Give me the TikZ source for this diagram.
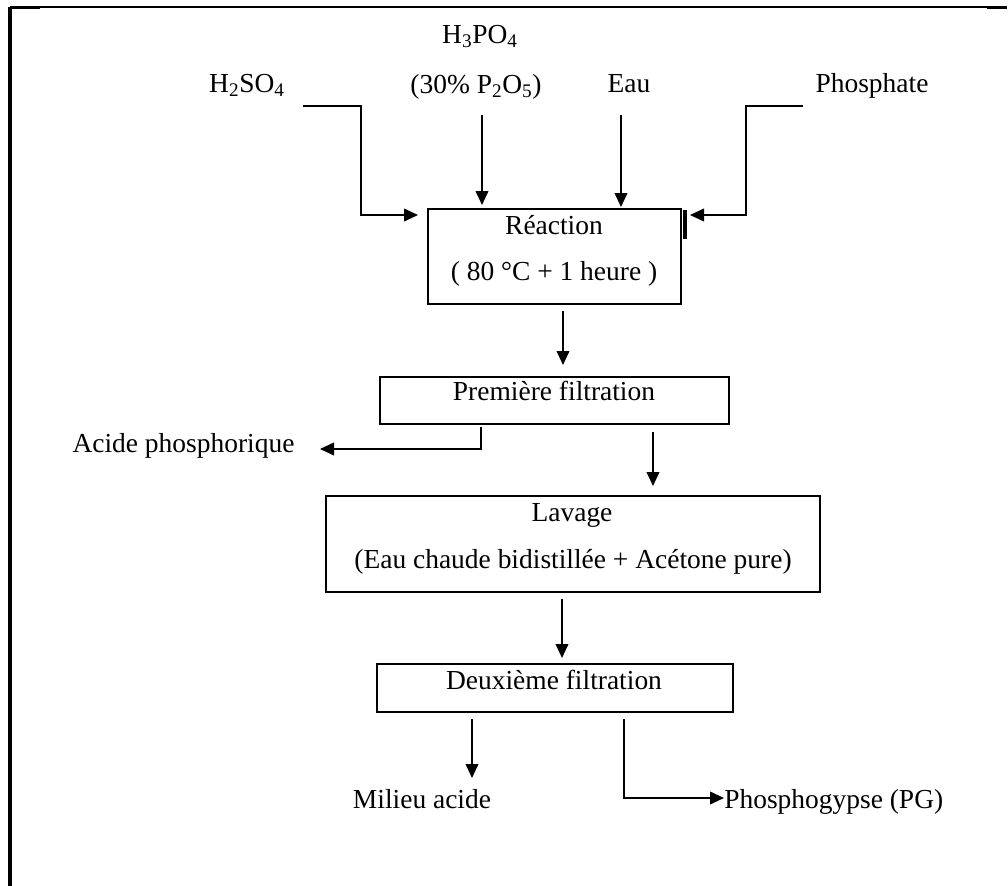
\documentclass[tikz,border=0pt]{standalone}
\usepackage{fontspec}
\setmainfont{Liberation Serif}
\usepackage{tikz}
\usetikzlibrary{arrows.meta}

\begin{document}
\begin{tikzpicture}[x=0.75pt,y=0.75pt,yscale=-1,xscale=1,
    box/.style={draw, line width=1.2pt, inner sep=0pt, outer sep=0pt},
    lbl/.style={inner sep=0pt, anchor=base, font=\fontsize{20.6}{24}\selectfont},
    arr/.style={line width=1.3pt, -{Triangle[length=10.5pt,width=9.5pt]}}]
\useasboundingbox (0,0) rectangle (1008,886);

%Frame
\draw [line width=2.4pt] (10,886) -- (10,6.5) ;
\draw [line width=1.2pt] (10,7) -- (1002,7) ;
\draw [line width=2.4pt] (10,7.5) -- (40,7.5) ;
\draw [line width=2.4pt] (987,7.5) -- (1007,7.5) ;

%Shape: Rectangle [Reaction]
\node [box, minimum width=189.75pt, minimum height=71.25pt] (reac) at (554.5,256.5) {};
%Shape: Rectangle [Premiere filtration]
\node [box, minimum width=261.75pt, minimum height=35.25pt] (filt1) at (554.5,400.5) {};
%Shape: Rectangle [Lavage]
\node [box, minimum width=370.5pt, minimum height=72pt] (lav) at (573,544) {};
%Shape: Rectangle [Deuxieme filtration]
\node [box, minimum width=267pt, minimum height=36pt] (filt2) at (555,688) {};

% Text Node
\node [lbl] (h2so4) at (247,92) {H\textsubscript{2}SO\textsubscript{4}};
% Text Node
\node [lbl] (h3po4) at (480,43) {H\textsubscript{3}PO\textsubscript{4}};
% Text Node
\node [lbl] (p2o5) at (476,93) {(30\% P\textsubscript{2}O\textsubscript{5})};
% Text Node
\node [lbl] (eau) at (629,92) {Eau};
% Text Node
\node [lbl] (phos) at (872,92) {Phosphate};
% Text Node
\node [lbl] (reacA) at (554,234) {Réaction};
% Text Node
\node [lbl] (reacB) at (554,280) {( 80 °C + 1 heure )};
% Text Node
\node [lbl] (filt1T) at (554,400) {Première filtration};
% Text Node
\node [lbl] (acide) at (183.5,452) {Acide phosphorique};
% Text Node
\node [lbl] (lavA) at (572,521) {Lavage};
% Text Node
\node [lbl] (lavB) at (573,568) {(Eau chaude bidistillée + Acétone pure)};
% Text Node
\node [lbl] (filt2T) at (554,689) {Deuxième filtration};
% Text Node
\node [lbl] (milieu) at (422,808) {Milieu acide};
% Text Node
\node [lbl, anchor=base west] (pg) at (724,808) {Phosphogypse (PG)};

%Bends and free ends
\coordinate (sIn) at (303,106);
\coordinate (sBend) at (361,215);
\coordinate (hIn) at (482,115);
\coordinate (eIn) at (621,115);
\coordinate (pIn) at (803,106);
\coordinate (pBend) at (746,215);
\coordinate (barT) at (685,210);
\coordinate (barB) at (685,239);
\coordinate (c1) at (563,0);
\coordinate (aBend) at (481,449);
\coordinate (aTip) at (320,449);
\coordinate (c2) at (653,0);
\coordinate (c3) at (562,0);
\coordinate (mTip) at (472,778);
\coordinate (gBend) at (624,798);

%Straight Lines [inputs]
\draw [arr, shorten >=7.5pt] (sIn) -| (sBend) -- (reac.west |- sBend) ;
\draw [arr, shorten >=3pt] (hIn) -- (hIn |- reac.north) ;
\draw [arr, shorten >=1.5pt] (eIn) -- (eIn |- reac.north) ;
\draw [arr, shorten >=6.75pt] (pIn) -| (pBend) -- (reac.east |- pBend) ;
\draw [line width=2.6pt] (barT) -- (barB) ;
%Straight Lines [process]
\draw [arr, shorten <=5.25pt, shorten >=9pt] (reac.south -| c1) -- (filt1.north -| c1) ;
\draw [arr, shorten <=2.25pt] (filt1.south -| aBend) -- (aBend) -- (aTip) ;
\draw [arr, shorten <=6pt, shorten >=7.5pt] (filt1.south -| c2) -- (lav.north -| c2) ;
\draw [arr, shorten <=5.25pt, shorten >=4.5pt] (lav.south -| c3) -- (filt2.north -| c3) ;
\draw [arr, shorten <=5.25pt] (filt2.south -| mTip) -- (mTip) ;
\draw [arr, shorten <=5.25pt] (filt2.south -| gBend) -- (gBend) -- (pg.west |- gBend) ;

\end{tikzpicture}
\end{document}
